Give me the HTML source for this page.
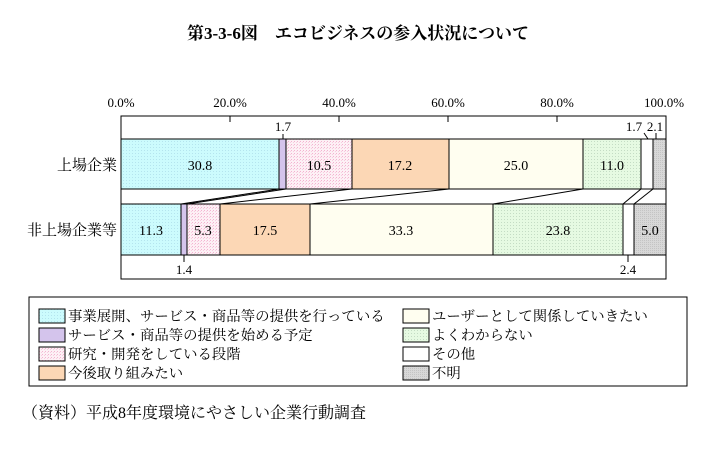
<!DOCTYPE html>
<html><head><meta charset="utf-8"><style>
body{margin:0;background:#fff;width:715px;height:451px;overflow:hidden}
svg text{font-family:"Liberation Serif","Noto Serif CJK SC",serif;}
</style></head><body>
<svg width="715" height="451" xmlns="http://www.w3.org/2000/svg">
<defs>
<pattern id="p0" width="3" height="3" patternUnits="userSpaceOnUse"><rect width="3" height="3" fill="#ccfbfd"/><rect width="1" height="1" fill="#b4e4ee"/></pattern>
<pattern id="p2" width="3" height="3" patternUnits="userSpaceOnUse"><rect width="3" height="3" fill="#fdf0f5"/><rect width="1" height="1" fill="#f3b3d0"/><rect x="2" y="1" width="1" height="1" fill="#f8cce0"/></pattern>
<pattern id="p5" width="3" height="3" patternUnits="userSpaceOnUse"><rect width="3" height="3" fill="#e6fae2"/><rect width="1" height="1" fill="#c4dcc4"/></pattern>
<pattern id="p7" width="2" height="2" patternUnits="userSpaceOnUse"><rect width="2" height="2" fill="#d8d8d8"/><rect width="1" height="1" fill="#c4c4c4"/></pattern>
</defs>
<text x="358" y="39" font-size="17" font-weight="bold" text-anchor="middle" font-family="Liberation Sans,Noto Sans CJK JP,sans-serif">第3-3-6図　エコビジネスの参入状況について</text>
<g font-size="13" text-anchor="middle">
<text x="121" y="107">0.0%</text><text x="230" y="107">20.0%</text><text x="339" y="107">40.0%</text><text x="448" y="107">60.0%</text><text x="557" y="107">80.0%</text><text x="664" y="107">100.0%</text>
</g>
<rect x="121" y="116" width="545" height="163" fill="#fff" stroke="#000" stroke-width="1"/>
<g stroke="#000"><line x1="230" y1="116" x2="230" y2="122"/><line x1="339" y1="116" x2="339" y2="122"/><line x1="448" y1="116" x2="448" y2="122"/><line x1="557" y1="116" x2="557" y2="122"/></g>

<g stroke="#000">
<rect x="121" y="139" width="158" height="50" fill="url(#p0)"/>
<rect x="279" y="139" width="7" height="50" fill="#d4c4ec"/>
<rect x="286" y="139" width="66" height="50" fill="url(#p2)"/>
<rect x="352" y="139" width="97" height="50" fill="#fcd7b5"/>
<rect x="449" y="139" width="134" height="50" fill="#fffef0"/>
<rect x="583" y="139" width="58" height="50" fill="url(#p5)"/>
<rect x="641" y="139" width="12" height="50" fill="#fff"/>
<rect x="653" y="139" width="13" height="50" fill="url(#p7)"/>

<rect x="121" y="204" width="60" height="51" fill="url(#p0)"/>
<rect x="181" y="204" width="6" height="51" fill="#d4c4ec"/>
<rect x="187" y="204" width="33" height="51" fill="url(#p2)"/>
<rect x="220" y="204" width="90" height="51" fill="#fcd7b5"/>
<rect x="310" y="204" width="183" height="51" fill="#fffef0"/>
<rect x="493" y="204" width="130" height="51" fill="url(#p5)"/>
<rect x="623" y="204" width="11" height="51" fill="#fff"/>
<rect x="634" y="204" width="32" height="51" fill="url(#p7)"/>

<line x1="279" y1="189" x2="181" y2="204"/>
<line x1="286" y1="189" x2="187" y2="204"/>
<line x1="352" y1="189" x2="220" y2="204"/>
<line x1="449" y1="189" x2="310" y2="204"/>
<line x1="583" y1="189" x2="493" y2="204"/>
<line x1="641" y1="189" x2="623" y2="204"/>
<line x1="653" y1="189" x2="634" y2="204"/>

<line x1="283" y1="134" x2="283" y2="139"/>
<line x1="644" y1="133" x2="648" y2="139"/>
<line x1="656" y1="133" x2="656" y2="139"/>
<line x1="184" y1="255" x2="184" y2="262"/>
<line x1="628" y1="255" x2="628" y2="262"/>
</g>
<g font-size="14" text-anchor="middle">
<text x="200" y="170">30.8</text><text x="319" y="170">10.5</text><text x="400" y="170">17.2</text><text x="516" y="170">25.0</text><text x="612" y="170">11.0</text>
<text x="151" y="235">11.3</text><text x="203" y="235">5.3</text><text x="265" y="235">17.5</text><text x="401" y="235">33.3</text><text x="558" y="235">23.8</text><text x="650" y="235">5.0</text>
</g>
<g font-size="13" text-anchor="middle">
<text x="283" y="131">1.7</text><text x="634" y="131">1.7</text><text x="655" y="131">2.1</text>
<text x="184" y="274">1.4</text><text x="628" y="274">2.4</text>
</g>
<text x="117" y="170" font-size="15" text-anchor="end">上場企業</text>
<text x="117" y="235" font-size="15" text-anchor="end">非上場企業等</text>
<rect x="29" y="297" width="658" height="89" fill="none" stroke="#000"/>
<g font-size="14.4">
<rect x="39" y="309" width="26" height="14" fill="url(#p0)" stroke="#000"/><text x="68" y="321">事業展開、サービス・商品等の提供を行っている</text>
<rect x="39" y="328" width="26" height="14" fill="#d4c4ec" stroke="#000"/><text x="68" y="340">サービス・商品等の提供を始める予定</text>
<rect x="39" y="347" width="26" height="14" fill="url(#p2)" stroke="#000"/><text x="68" y="359">研究・開発をしている段階</text>
<rect x="39" y="366" width="26" height="14" fill="#fcd7b5" stroke="#000"/><text x="68" y="378">今後取り組みたい</text>
<rect x="403" y="309" width="26" height="14" fill="#fffef0" stroke="#000"/><text x="432" y="321">ユーザーとして関係していきたい</text>
<rect x="403" y="328" width="26" height="14" fill="url(#p5)" stroke="#000"/><text x="432" y="340">よくわからない</text>
<rect x="403" y="347" width="26" height="14" fill="#fff" stroke="#000"/><text x="432" y="359">その他</text>
<rect x="403" y="366" width="26" height="14" fill="url(#p7)" stroke="#000"/><text x="432" y="378">不明</text>
</g>
<text x="22" y="418" font-size="16">（資料）平成8年度環境にやさしい企業行動調査</text>
</svg>
</body></html>
